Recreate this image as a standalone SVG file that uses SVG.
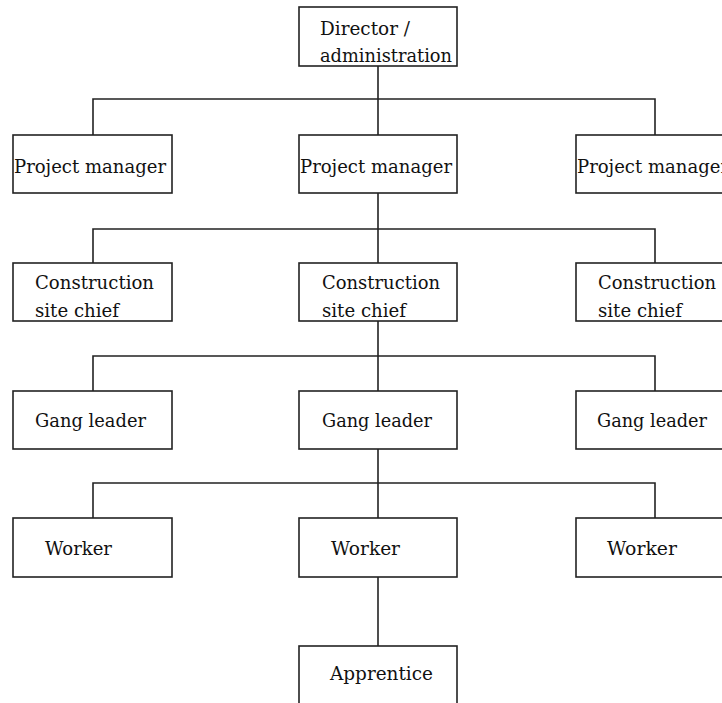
<svg xmlns="http://www.w3.org/2000/svg" width="722" height="703" viewBox="0 0 722 703">
  <style>
    .box { fill: #ffffff; stroke: #222222; stroke-width: 1.6; }
    .wire { fill: none; stroke: #222222; stroke-width: 1.6; }
    .lbl { font-family: "DejaVu Serif", serif; font-size: 19px; fill: #111111; }
  </style>
  <rect width="722" height="703" fill="#ffffff"/>

  <!-- connectors -->
  <g id="connectors" class="wire">
    <path d="M378 66V99M93 135V99H655V135M378 99V135"/>
    <path d="M378 193V229M93 263V229H655V263M378 229V263"/>
    <path d="M378 321V356M93 391V356H655V391M378 356V391"/>
    <path d="M378 449V483M93 518V483H655V518M378 483V518"/>
    <path d="M378 577V646"/>
  </g>

  <!-- level 0 -->
  <g id="director">
    <rect class="box" x="299" y="7" width="158" height="59"/>
    <text class="lbl" x="320" y="35" textLength="90" lengthAdjust="spacingAndGlyphs">Director /</text>
    <text class="lbl" x="320" y="62" textLength="132" lengthAdjust="spacingAndGlyphs">administration</text>
  </g>

  <!-- level 1 -->
  <g id="pm-left">
    <rect class="box" x="13" y="135" width="159" height="58"/>
    <text class="lbl" x="14" y="173" textLength="152" lengthAdjust="spacingAndGlyphs">Project manager</text>
  </g>
  <g id="pm-mid">
    <rect class="box" x="299" y="135" width="158" height="58"/>
    <text class="lbl" x="300" y="173" textLength="152" lengthAdjust="spacingAndGlyphs">Project manager</text>
  </g>
  <g id="pm-right">
    <rect class="box" x="576" y="135" width="159" height="58"/>
    <text class="lbl" x="577" y="173" textLength="152" lengthAdjust="spacingAndGlyphs">Project manager</text>
  </g>

  <!-- level 2 -->
  <g id="csc-left">
    <rect class="box" x="13" y="263" width="159" height="58"/>
    <text class="lbl" x="35" y="289" textLength="119" lengthAdjust="spacingAndGlyphs">Construction</text>
    <text class="lbl" x="35" y="317" textLength="84" lengthAdjust="spacingAndGlyphs">site chief</text>
  </g>
  <g id="csc-mid">
    <rect class="box" x="299" y="263" width="158" height="58"/>
    <text class="lbl" x="322" y="289" textLength="118" lengthAdjust="spacingAndGlyphs">Construction</text>
    <text class="lbl" x="322" y="317" textLength="84" lengthAdjust="spacingAndGlyphs">site chief</text>
  </g>
  <g id="csc-right">
    <rect class="box" x="576" y="263" width="159" height="58"/>
    <text class="lbl" x="598" y="289" textLength="118" lengthAdjust="spacingAndGlyphs">Construction</text>
    <text class="lbl" x="598" y="317" textLength="84" lengthAdjust="spacingAndGlyphs">site chief</text>
  </g>

  <!-- level 3 -->
  <g id="gl-left">
    <rect class="box" x="13" y="391" width="159" height="58"/>
    <text class="lbl" x="35" y="427" textLength="111" lengthAdjust="spacingAndGlyphs">Gang leader</text>
  </g>
  <g id="gl-mid">
    <rect class="box" x="299" y="391" width="158" height="58"/>
    <text class="lbl" x="322" y="427" textLength="110" lengthAdjust="spacingAndGlyphs">Gang leader</text>
  </g>
  <g id="gl-right">
    <rect class="box" x="576" y="391" width="159" height="58"/>
    <text class="lbl" x="597" y="427" textLength="110" lengthAdjust="spacingAndGlyphs">Gang leader</text>
  </g>

  <!-- level 4 -->
  <g id="worker-left">
    <rect class="box" x="13" y="518" width="159" height="59"/>
    <text class="lbl" x="45" y="555" textLength="67" lengthAdjust="spacingAndGlyphs">Worker</text>
  </g>
  <g id="worker-mid">
    <rect class="box" x="299" y="518" width="158" height="59"/>
    <text class="lbl" x="331" y="555" textLength="69" lengthAdjust="spacingAndGlyphs">Worker</text>
  </g>
  <g id="worker-right">
    <rect class="box" x="576" y="518" width="159" height="59"/>
    <text class="lbl" x="607" y="555" textLength="70" lengthAdjust="spacingAndGlyphs">Worker</text>
  </g>

  <!-- level 5 -->
  <g id="apprentice">
    <rect class="box" x="299" y="646" width="158" height="70"/>
    <text class="lbl" x="330" y="680" textLength="103" lengthAdjust="spacingAndGlyphs">Apprentice</text>
  </g>
</svg>
